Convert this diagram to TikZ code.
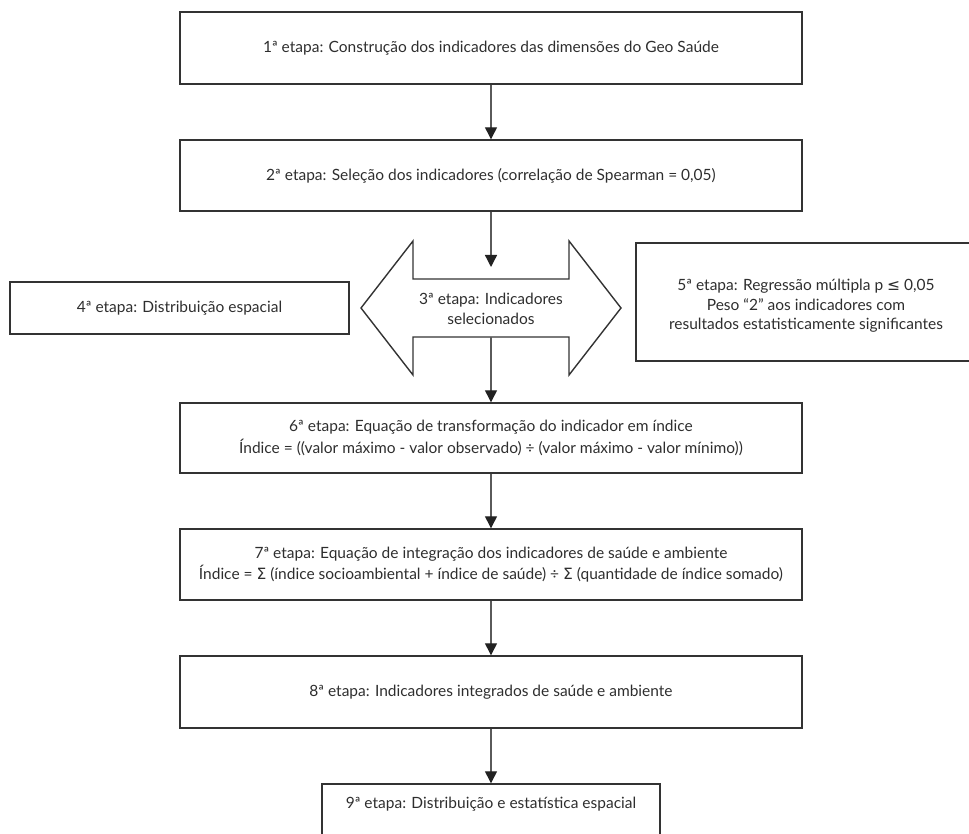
\documentclass[tikz,border=0pt]{standalone}
\usepackage{fontspec}
\setmainfont{Lato}
\newfontfamily\symf{DejaVu Sans}
\usetikzlibrary{arrows.meta}
\definecolor{bordc}{HTML}{333333}
\definecolor{linec}{HTML}{5A5A5A}
\definecolor{headc}{HTML}{222222}
\definecolor{txtc}{HTML}{2E2E2E}
\begin{document}
\begin{tikzpicture}[x=1pt,y=-1pt,
  box/.style={draw=bordc, line width=1.4pt, rectangle, inner sep=0pt, align=center,
    text=txtc, font=\fontsize{15.5}{21.5}\selectfont},
  lbl/.style={inner sep=0pt, align=center, text=txtc, font=\fontsize{15.5}{19.5}\selectfont},
  conn/.style={draw=linec, line width=1.3pt, -{Triangle[length=12pt,width=12pt,color=headc]}},
  dbl/.style={draw=bordc, line width=1.4pt, fill=white}]
\path[use as bounding box] (0,0) rectangle (969,834);
\clip (0,0) rectangle (969,834);
% boxes
\node[box, minimum width=622pt, minimum height=72pt] (b1) at (491,48) {1ª etapa: Construção dos indicadores das dimensões do Geo Saúde};
\node[box, minimum width=622pt, minimum height=71pt] (b2) at (491,175.5) {2ª etapa: Seleção dos indicadores (correlação de Spearman = 0,05)};
\node[box, minimum width=339pt, minimum height=52pt] (b4) at (179.5,308) {4ª etapa: Distribuição espacial};
\node[box, minimum width=340pt, minimum height=118pt] (b5) at (806,302) {};
\node[lbl] (t5) at (806,306) {5ª etapa: Regressão múltipla p {\symf ≤} 0,05\\Peso “2” aos indicadores com\\resultados estatisticamente significantes};
\node[box, minimum width=622pt, minimum height=70pt] (b6) at (491,438) {6ª etapa: Equação de transformação do indicador em índice\\Índice = ((valor máximo - valor observado) ÷ (valor máximo - valor mínimo))};
\node[box, minimum width=622pt, minimum height=71pt] (b7) at (491,564.5) {7ª etapa: Equação de integração dos indicadores de saúde e ambiente\\Índice = {\symf Σ} (índice socioambiental + índice de saúde) ÷ {\symf Σ} (quantidade de índice somado)};
\node[box, minimum width=622pt, minimum height=72pt] (b8) at (491,692) {8ª etapa: Indicadores integrados de saúde e ambiente};
\node[box, minimum width=338pt, minimum height=66pt] (b9) at (491,817) {};
\node[lbl] (t9) at (491,804) {9ª etapa: Distribuição e estatística espacial};
% double arrow (3rd stage)
\coordinate (dL) at (361,308);
\coordinate (dR) at (621,308);
\draw[dbl] (dL) -- (413,241) -- (413,279) -- (569,279) -- (569,241) -- (dR)
  -- (569,375) -- (569,337) -- (413,337) -- (413,375) -- cycle;
\node[lbl] (b3) at (491,309) {3ª etapa: Indicadores\\selecionados};
\coordinate (inTop) at (491,267);
\coordinate (outBot) at (491,337);
% connectors
\draw[conn] (b1.south) -- (b2.north);
\draw[conn] (b2.south) -- (inTop);
\draw[conn] (outBot) -- (b6.north);
\draw[conn] (b6.south) -- (b7.north);
\draw[conn] (b7.south) -- (b8.north);
\draw[conn] (b8.south) -- (b9.north);
\end{tikzpicture}
\end{document}
